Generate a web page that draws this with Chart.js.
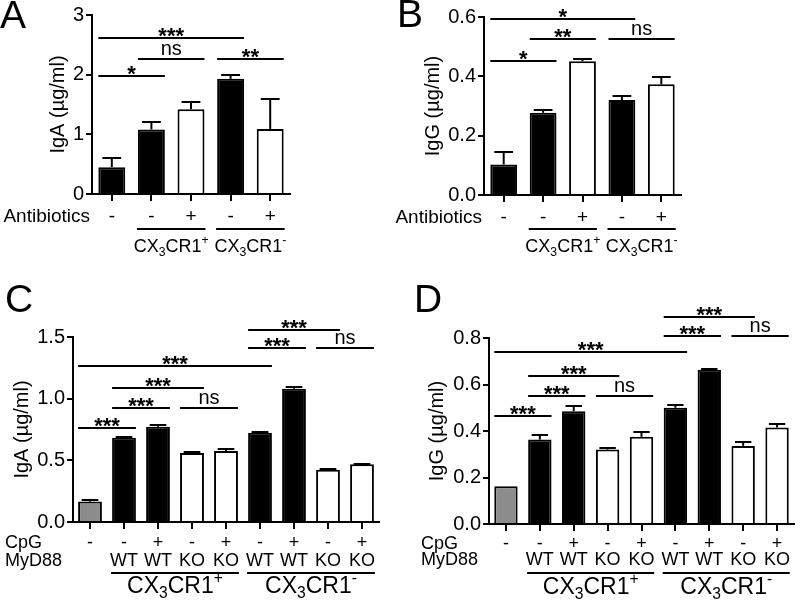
<!DOCTYPE html>
<html>
<head>
<meta charset="utf-8">
<script src="https://cdn.jsdelivr.net/npm/chart.js@4.4.1/dist/chart.umd.min.js"></script>
<style>
body { margin: 0; background: #fff; }
#wrap { position: relative; width: 800px; height: 605px; overflow: hidden; background: #fff; }
canvas { position: absolute; }
</style>
</head>
<body>
<div id="wrap">
<canvas id="panelA" width="400" height="280" style="left:0;top:0"></canvas>
<canvas id="panelB" width="420" height="280" style="left:380px;top:0"></canvas>
<canvas id="panelC" width="400" height="325" style="left:0;top:280px"></canvas>
<canvas id="panelD" width="420" height="325" style="left:380px;top:280px"></canvas>
</div>
<script>
// Values (mean and SEM, ug/ml)
const abxRow = ["-", "-", "+", "-", "+"];
const abxGroups = ["CX3CR1+", "CX3CR1-"];
const abxSpans = [[1, 2], [3, 4]];
const abxColors = ["#000", "#000", "#fff", "#000", "#fff"];

const igaAbx = [0.45, 1.08, 1.42, 1.93, 1.09];
const igaAbxSem = [0.16, 0.12, 0.12, 0.06, 0.51];
const igaAbxTicks = ["0", "1", "2", "3"];
// [from bar, to bar, height, label]
const igaAbxSig = [[0, 3, 2.62, "***"], [1, 2, 2.26, "ns"], [3, 4, 2.26, "**"], [0, 1, 1.97, "*"]];

const iggAbx = [0.103, 0.277, 0.451, 0.32, 0.373];
const iggAbxSem = [0.043, 0.01, 0.007, 0.014, 0.024];
const iggAbxTicks = ["0.0", "0.2", "0.4", "0.6"];
const iggAbxSig = [[0, 3, 0.594, "*"], [1, 2, 0.527, "**"], [3, 4, 0.527, "ns"], [0, 1, 0.451, "*"]];

const cpgRow = ["-", "-", "+", "-", "+", "-", "+", "-", "+"];
const myd88Row = ["", "WT", "WT", "KO", "KO", "WT", "WT", "KO", "KO"];
const cpgGroups = ["CX3CR1+", "CX3CR1-"];
const cpgSpans = [[1, 4], [5, 8]];
const cpgColors = ["#8c8c8c", "#000", "#000", "#fff", "#fff", "#000", "#000", "#fff", "#fff"];

const igaCpg = [0.167, 0.684, 0.773, 0.56, 0.576, 0.724, 1.08, 0.423, 0.469];
const igaCpgSem = [0.011, 0.005, 0.011, 0.011, 0.014, 0.006, 0.016, 0.008, 0.005];
const igaCpgTicks = ["0.0", "0.5", "1.0", "1.5"];
const igaCpgSig = [[5, 7, 1.559, "***"], [5, 6, 1.411, "***"], [7, 8, 1.411, "ns"], [0, 5, 1.266, "***"],
  [1, 3, 1.088, "***"], [1, 2, 0.924, "***"], [3, 4, 0.924, "ns"], [0, 1, 0.762, "***"]];

const iggCpg = [0.162, 0.363, 0.485, 0.32, 0.375, 0.5, 0.663, 0.336, 0.415];
const iggCpgSem = [0, 0.019, 0.023, 0.005, 0.021, 0.012, 0.003, 0.015, 0.017];
const iggCpgTicks = ["0.0", "0.2", "0.4", "0.6", "0.8"];
const iggCpgSig = [[5, 7, 0.89, "***"], [5, 6, 0.807, "***"], [7, 8, 0.807, "ns"], [0, 5, 0.74, "***"],
  [1, 3, 0.637, "***"], [1, 2, 0.551, "***"], [3, 4, 0.551, "ns"], [0, 1, 0.465, "***"]];

const FONT = "'Liberation Sans', Arial, sans-serif";
Chart.defaults.font.family = FONT;
Chart.defaults.color = "#000";

// CX3CR1+ style label: subscript 3, superscript sign
function drawCx(ctx, label, cx, cy, size) {
	const m = label.match(/^(CX)(3)(CR1)(.)$/);
	const parts = [
		[m[1], size, 0], [m[2], size * 0.68, size * 0.3],
		[m[3], size, 0], [m[4], size * 0.68, -size * 0.38],
	];
	let total = 0;
	parts.forEach((p) => {
		ctx.font = `${p[1]}px ${FONT}`;
		total += ctx.measureText(p[0]).width;
	});
	let x = cx - total / 2;
	ctx.textAlign = "left";
	ctx.textBaseline = "middle";
	parts.forEach((p) => {
		ctx.font = `${p[1]}px ${FONT}`;
		ctx.fillText(p[0], x, cy + p[2]);
		x += ctx.measureText(p[0]).width;
	});
}

function extrasPlugin(cfg) {
	return {
		id: "extras",
		afterDraw(chart) {
			const { ctx, scales: { y }, chartArea } = chart;
			const bars = chart.getDatasetMeta(0).data;
			const half = bars[0].width / 2;
			const line = (x1, y1, x2, y2) => {
				ctx.beginPath();
				ctx.moveTo(x1, y1);
				ctx.lineTo(x2, y2);
				ctx.stroke();
			};
			ctx.save();
			ctx.strokeStyle = "#000";
			ctx.fillStyle = "#000";
			ctx.lineWidth = 2;

			// upward error bars
			cfg.sem.forEach((e, i) => {
				if (!e) return;
				const bx = bars[i].x;
				const top = y.getPixelForValue(cfg.values[i]);
				const hi = Math.round(y.getPixelForValue(cfg.values[i] + e));
				line(bx, top, bx, hi);
				line(bx - half * 0.7, hi, bx + half * 0.7, hi);
			});

			// significance brackets
			cfg.sig.forEach(([a, b, v, txt]) => {
				const yy = Math.round(y.getPixelForValue(v));
				const x1 = bars[a].x - half;
				const x2 = bars[b].x + half;
				line(x1, yy, x2, yy);
				ctx.font = txt === "ns" ? `20px ${FONT}` : `bold 22px ${FONT}`;
				ctx.textAlign = "center";
				ctx.textBaseline = "alphabetic";
				ctx.fillText(txt, (x1 + x2) / 2, txt === "ns" ? yy - 4 : yy + 5);
			});

			// rows under the axis
			cfg.rows.forEach((row) => {
				const ry = chartArea.bottom + row.dy;
				ctx.textBaseline = "middle";
				ctx.font = `${cfg.rowFont}px ${FONT}`;
				ctx.textAlign = cfg.nameAlign;
				const nx = cfg.nameAlign === "right" ? chartArea.left - 2 : chartArea.left - 68;
				ctx.fillText(row.name, nx, ry);
				ctx.textAlign = "center";
				row.values.forEach((s, i) => ctx.fillText(s, bars[i].x, ry));
			});

			// group lines and labels
			cfg.groups.forEach((g, i) => {
				const [a, b] = cfg.spans[i];
				const x1 = bars[a].x - half - 1;
				const x2 = bars[b].x + half + 1;
				line(x1, chartArea.bottom + cfg.groupLineDy, x2, chartArea.bottom + cfg.groupLineDy);
				drawCx(ctx, g, (x1 + x2) / 2, chartArea.bottom + cfg.groupLabelDy, cfg.groupFont);
			});

			// panel letter
			ctx.font = `39px ${FONT}`;
			ctx.textAlign = "left";
			ctx.textBaseline = "alphabetic";
			ctx.fillText(cfg.letter, cfg.letterPos[0], cfg.letterPos[1]);
			ctx.restore();
		},
	};
}

function makePanel(id, cfg) {
	const canvas = document.getElementById(id);
	const [left, top, right, bottom] = cfg.area;
	new Chart(canvas.getContext("2d"), {
		type: "bar",
		data: {
			labels: cfg.values.map((v, i) => i),
			datasets: [{
				data: cfg.values,
				backgroundColor: cfg.colors,
				borderColor: "#000",
				borderWidth: 2,
				categoryPercentage: 1,
				barPercentage: cfg.barPct,
			}],
		},
		options: {
			responsive: false,
			animation: false,
			devicePixelRatio: 1,
			layout: { padding: { left: 0, top: top, right: canvas.width - right, bottom: canvas.height - bottom - 8 } },
			plugins: { legend: { display: false }, tooltip: { enabled: false } },
			scales: {
				x: {
					offset: true,
					grid: { drawOnChartArea: false, offset: false, color: "#000", lineWidth: 2, tickLength: 7 },
					border: { color: "#000", width: 2 },
					ticks: { display: false },
					afterFit: (s) => { s.height = 8; },
				},
				y: {
					min: 0,
					max: cfg.max,
					ticks: {
						stepSize: cfg.step,
						color: "#000",
						font: { size: 20 },
						padding: 2,
						callback: (v) => cfg.ticks[Math.round(v / cfg.step)],
					},
					grid: { drawOnChartArea: false, color: "#000", lineWidth: 2, tickLength: 6 },
					border: { color: "#000", width: 2 },
					title: {
						display: true,
						text: cfg.yTitle,
						color: "#000",
						font: { size: 20 },
						padding: { top: cfg.titleX - 12, bottom: 0 },
					},
					afterFit: (s) => { s.width = left; },
				},
			},
		},
		plugins: [extrasPlugin(cfg)],
	});
}

makePanel("panelA", {
	letter: "A", letterPos: [0, 28], area: [92, 15, 290, 194], titleX: 58,
	values: igaAbx, sem: igaAbxSem, colors: abxColors, barPct: 0.68,
	max: 3, step: 1, ticks: igaAbxTicks, yTitle: "IgA (\u00b5g/ml)", sig: igaAbxSig,
	rows: [{ name: "Antibiotics", values: abxRow, dy: 23 }], nameAlign: "right", rowFont: 19,
	groups: abxGroups, spans: abxSpans, groupLineDy: 35, groupLabelDy: 53, groupFont: 18,
});

makePanel("panelB", {
	letter: "B", letterPos: [17, 27], area: [104, 17, 301, 195], titleX: 53,
	values: iggAbx, sem: iggAbxSem, colors: abxColors, barPct: 0.68,
	max: 0.6, step: 0.2, ticks: iggAbxTicks, yTitle: "IgG (\u00b5g/ml)", sig: iggAbxSig,
	rows: [{ name: "Antibiotics", values: abxRow, dy: 23 }], nameAlign: "right", rowFont: 19,
	groups: abxGroups, spans: abxSpans, groupLineDy: 34, groupLabelDy: 52, groupFont: 18,
});

makePanel("panelC", {
	letter: "C", letterPos: [5, 32], area: [73, 57, 379, 242], titleX: 22,
	values: igaCpg, sem: igaCpgSem, colors: cpgColors, barPct: 0.7,
	max: 1.5, step: 0.5, ticks: igaCpgTicks, yTitle: "IgA (\u00b5g/ml)", sig: igaCpgSig,
	rows: [{ name: "CpG", values: cpgRow, dy: 21 }, { name: "MyD88", values: myd88Row, dy: 39 }],
	nameAlign: "left", rowFont: 18,
	groups: cpgGroups, spans: cpgSpans, groupLineDy: 51, groupLabelDy: 65, groupFont: 23,
});

makePanel("panelD", {
	letter: "D", letterPos: [34, 32], area: [109, 58, 414, 244], titleX: 57,
	values: iggCpg, sem: iggCpgSem, colors: cpgColors, barPct: 0.69,
	max: 0.8, step: 0.2, ticks: iggCpgTicks, yTitle: "IgG (\u00b5g/ml)", sig: iggCpgSig,
	rows: [{ name: "CpG", values: cpgRow, dy: 20 }, { name: "MyD88", values: myd88Row, dy: 36 }],
	nameAlign: "left", rowFont: 18,
	groups: cpgGroups, spans: cpgSpans, groupLineDy: 49, groupLabelDy: 64, groupFont: 23,
});
</script>
</body>
</html>
